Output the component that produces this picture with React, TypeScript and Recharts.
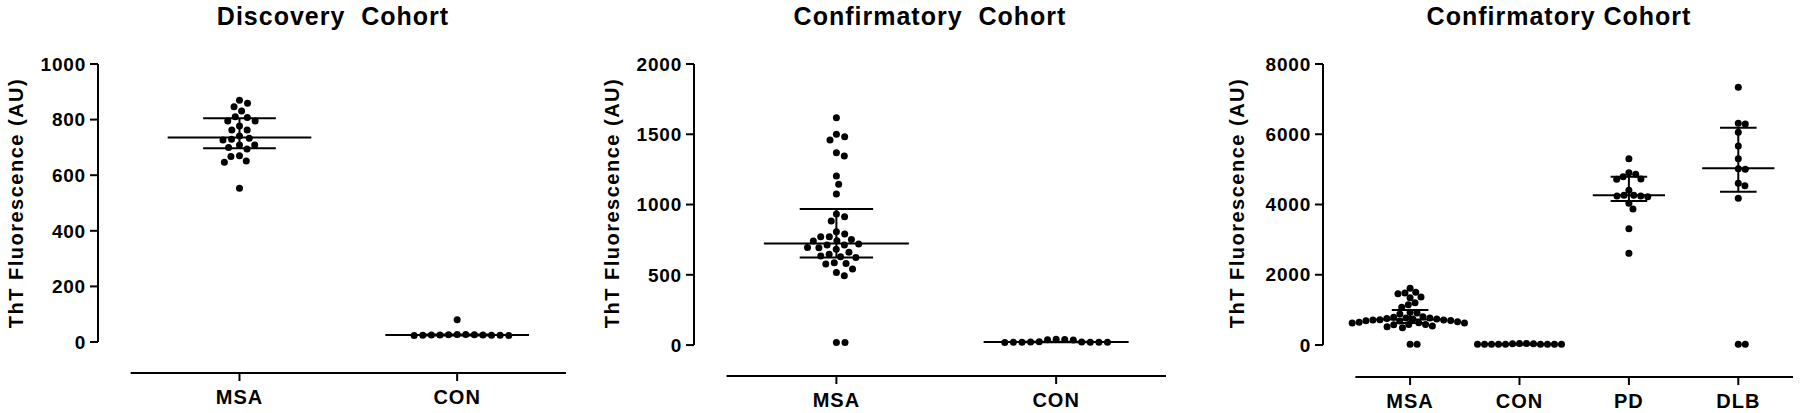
import React from "react";
import { ComposedChart, ReferenceLine, Scatter, XAxis, YAxis } from "recharts";

// values (ThT fluorescence, AU)
const msaDiscovery = [870, 859, 846, 831, 810, 808, 795, 795, 777, 763, 763, 741, 733, 729, 727, 709, 709, 700, 694, 670, 667, 651, 647, 553];
const conDiscovery = [80, 27, 25, 24, 26, 23, 25, 24, 26, 25, 23, 27, 24];

const msaConfirm = [
  1618, 1500, 1483, 1459, 1369, 1345, 1203, 1144, 1075, 932, 913, 883, 806, 790, 771, 771, 752, 742, 740, 719, 712, 712,
  695, 693, 681, 660, 646, 633, 628, 624, 586, 581, 577, 541, 517, 493, 19, 19,
];
const conConfirm = [42, 40, 24, 22, 21, 20, 20, 19, 20, 21, 22, 36, 38];
const pdConfirm = [5304, 4906, 4859, 4792, 4717, 4726, 4404, 4262, 4223, 4242, 4242, 4262, 4034, 3872, 3311, 2610];
const dlbConfirm = [7336, 6311, 6292, 6055, 5665, 5304, 5020, 5001, 4603, 4536, 4176, 20, 20];

// median and interquartile bars as drawn
const discoveryMedian = [736, 25];
const discoveryLow = [697, 23];
const discoveryHigh = [805, 27];
const confirmMedian = [723, 22];
const confirmLow = [624, 20];
const confirmHigh = [968, 24];
const allMedian = [723, 22, 4262, 5030];
const allLow = [624, 20, 4100, 4365];
const allHigh = [1000, 24, 4792, 6188];

const twoGroups = ["MSA", "CON"];
const fourGroups = ["MSA", "CON", "PD", "DLB"];
const ticksDiscovery = [0, 200, 400, 600, 800, 1000];
const ticksConfirm = [0, 500, 1000, 1500, 2000];
const ticksAll = [0, 2000, 4000, 6000, 8000];

const FONT = "'Liberation Sans', Arial, Helvetica, sans-serif";
const TOP = 64;
const H = 413;
const W = 600;

type PanelCfg = {
  title: string;
  left: number;
  categories: string[];
  groups: number[][];
  median: number[];
  low: number[];
  high: number[];
  yTicks: number[];
  yDomain: [number, number];
  xDomain: [number, number];
  yAxisWidth: number;
  marginRight: number;
  xAxisHeight: number;
  gap: number;
  titleX: number;
  labelX: number;
};

const panels: PanelCfg[] = [
  {
    title: "Discovery  Cohort",
    left: 0,
    categories: twoGroups,
    groups: [msaDiscovery, conDiscovery],
    median: discoveryMedian,
    low: discoveryLow,
    high: discoveryHigh,
    yTicks: ticksDiscovery,
    yDomain: [-111.5, 1000],
    xDomain: [0.35, 2.5],
    yAxisWidth: 98,
    marginRight: 34,
    xAxisHeight: 40,
    gap: 8.6,
    titleX: 333,
    labelX: 16,
  },
  {
    title: "Confirmatory  Cohort",
    left: 600,
    categories: twoGroups,
    groups: [msaConfirm, conConfirm],
    median: confirmMedian,
    low: confirmLow,
    high: confirmHigh,
    yTicks: ticksConfirm,
    yDomain: [-220, 2000],
    xDomain: [0.352, 2.5],
    yAxisWidth: 94,
    marginRight: 34,
    xAxisHeight: 37,
    gap: 8.6,
    titleX: 930,
    labelX: 612,
  },
  {
    title: "Confirmatory Cohort",
    left: 1200,
    categories: fourGroups,
    groups: [msaConfirm, conConfirm, pdConfirm, dlbConfirm],
    median: allMedian,
    low: allLow,
    high: allHigh,
    yTicks: ticksAll,
    yDomain: [-911, 8000],
    xDomain: [0.204, 4.5],
    yAxisWidth: 123,
    marginRight: 7,
    xAxisHeight: 36,
    gap: 7,
    titleX: 1559,
    labelX: 1237,
  },
];

// simple beeswarm: place points top-down, nearest free spot to the centre
function swarm(values: number[], d: number, pxX: number, pxY: number) {
  const order = values.map((_, i) => i).sort((a, b) => values[b] - values[a]);
  const placed: { x: number; y: number }[] = [];
  const out = new Array(values.length).fill(0);
  for (const i of order) {
    const y = values[i] * pxY;
    const near = placed.filter((p) => Math.abs(p.y - y) < d);
    const cands = [0];
    near.forEach((p) => {
      const w = Math.sqrt(d * d - (p.y - y) * (p.y - y));
      cands.push(p.x + w, p.x - w);
    });
    const ok = cands.filter((c) => near.every((p) => (p.x - c) ** 2 + (p.y - y) ** 2 >= d * d - 0.01));
    ok.sort((a, b) => Math.abs(a) - Math.abs(b) || b - a);
    const x = ok[0];
    placed.push({ x, y });
    out[i] = x / pxX;
  }
  return out;
}

const Dot = (p: any) => <circle cx={p.cx} cy={p.cy} r={3.5} fill="#000" />;

function Panel({ cfg }: { cfg: PanelCfg }) {
  const plotW = W - cfg.yAxisWidth - cfg.marginRight;
  const plotH = H - TOP - cfg.xAxisHeight;
  const pxX = plotW / (cfg.xDomain[1] - cfg.xDomain[0]);
  const pxY = plotH / (cfg.yDomain[1] - cfg.yDomain[0]);
  const points = cfg.groups.flatMap((vals, gi) =>
    swarm(vals, cfg.gap, pxX, pxY).map((off, i) => ({ x: gi + 1 + off, y: vals[i] }))
  );
  const n = cfg.categories.length;
  const line = { stroke: "#000", strokeWidth: 2, ifOverflow: "visible" as const };

  return (
    <div style={{ position: "absolute", left: cfg.left, top: 0, width: W, height: H }}>
      <ComposedChart width={W} height={H} margin={{ top: TOP, right: cfg.marginRight, left: 0, bottom: 0 }}>
        <XAxis
          type="number"
          dataKey="x"
          domain={cfg.xDomain}
          allowDataOverflow
          ticks={cfg.categories.map((_, i) => i + 1)}
          interval={0}
          tickFormatter={(v) => cfg.categories[Math.round(v) - 1]}
          axisLine={false}
          tickLine={{ stroke: "#000", strokeWidth: 2 }}
          tickSize={8}
          tickMargin={9}
          height={cfg.xAxisHeight}
          tick={{ fill: "#000", fontSize: 20, fontWeight: 700, fontFamily: FONT, letterSpacing: 1 }}
        />
        <YAxis
          type="number"
          dataKey="y"
          domain={cfg.yDomain}
          allowDataOverflow
          ticks={cfg.yTicks}
          interval={0}
          width={cfg.yAxisWidth}
          axisLine={false}
          tickLine={{ stroke: "#000", strokeWidth: 2 }}
          tickSize={8}
          tickMargin={4}
          tick={{ fill: "#000", fontSize: 19, fontWeight: 700, fontFamily: FONT, letterSpacing: 0.8 }}
        />
        {/* prism-style detached axes */}
        <ReferenceLine
          segment={[
            { x: cfg.xDomain[0], y: 0 },
            { x: cfg.xDomain[0], y: cfg.yTicks[cfg.yTicks.length - 1] },
          ]}
          {...line}
        />
        <ReferenceLine
          segment={[
            { x: 0.5, y: cfg.yDomain[0] },
            { x: n + 0.5, y: cfg.yDomain[0] },
          ]}
          {...line}
        />
        <Scatter data={points} shape={Dot} isAnimationActive={false} />
        {cfg.categories.map((c, i) => (
          <React.Fragment key={c}>
            <ReferenceLine segment={[{ x: i + 0.67, y: cfg.median[i] }, { x: i + 1.33, y: cfg.median[i] }]} {...line} />
            <ReferenceLine segment={[{ x: i + 0.833, y: cfg.high[i] }, { x: i + 1.167, y: cfg.high[i] }]} {...line} />
            <ReferenceLine segment={[{ x: i + 0.833, y: cfg.low[i] }, { x: i + 1.167, y: cfg.low[i] }]} {...line} />
            <ReferenceLine segment={[{ x: i + 1, y: cfg.low[i] }, { x: i + 1, y: cfg.high[i] }]} {...line} />
          </React.Fragment>
        ))}
      </ComposedChart>
    </div>
  );
}

export default function App() {
  return (
    <div style={{ position: "absolute", left: 0, top: 0, width: 1800, height: H, background: "#fff", fontFamily: FONT }}>
      {panels.map((p) => (
        <Panel key={p.left} cfg={p} />
      ))}
      {panels.map((p) => (
        <div
          key={"t" + p.left}
          style={{
            position: "absolute",
            left: p.titleX,
            top: 4,
            transform: "translateX(-50%)",
            whiteSpace: "pre",
            fontSize: 25,
            lineHeight: "25px",
            fontWeight: 700,
            letterSpacing: 1,
            color: "#000",
          }}
        >
          {p.title}
        </div>
      ))}
      {panels.map((p) => (
        <div
          key={"y" + p.left}
          style={{
            position: "absolute",
            left: p.labelX,
            top: 203,
            transform: "translate(-50%, -50%) rotate(-90deg)",
            whiteSpace: "pre",
            fontSize: 20,
            lineHeight: "20px",
            fontWeight: 700,
            letterSpacing: 1.5,
            color: "#000",
          }}
        >
          ThT Fluorescence (AU)
        </div>
      ))}
    </div>
  );
}
